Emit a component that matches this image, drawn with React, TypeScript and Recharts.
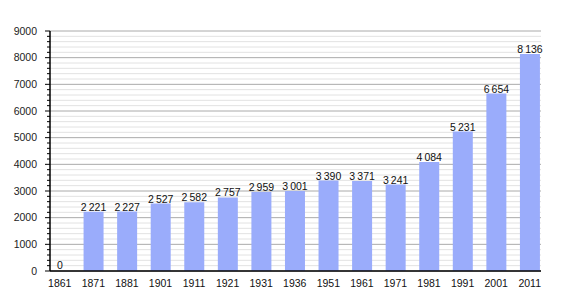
import { BarChart, Bar, XAxis, YAxis, CartesianGrid, LabelList, Cell } from "recharts";

const years = ["1861", "1871", "1881", "1901", "1911", "1921", "1931", "1936", "1951", "1961", "1971", "1981", "1991", "2001", "2011"];
const population = [0, 2221, 2227, 2527, 2582, 2757, 2959, 3001, 3390, 3371, 3241, 4084, 5231, 6654, 8136];
const yTicks = [
  0, 200, 400, 600, 800, 1000, 1200, 1400, 1600, 1800, 2000, 2200, 2400, 2600, 2800, 3000,
  3200, 3400, 3600, 3800, 4000, 4200, 4400, 4600, 4800, 5000, 5200, 5400, 5600, 5800, 6000,
  6200, 6400, 6600, 6800, 7000, 7200, 7400, 7600, 7800, 8000, 8200, 8400, 8600, 8800, 9000,
];

const data = years.map((year, i) => ({ year, value: population[i] }));

const font = "'Liberation Sans', Arial, sans-serif";
const barColor = "#9aacfb";

// thin space as thousands separator, like the original
const fmt = (v: number) => {
  const s = String(v);
  return s.length > 3 ? s.slice(0, -3) + "\u2009" + s.slice(-3) : s;
};

function YTick(props: any) {
  const { x, y, payload } = props;
  const axisX = x + 13;
  const major = payload.value % 1000 === 0;
  return (
    <g>
      <line x1={axisX - (major ? 5 : 3)} x2={axisX} y1={y} y2={y} stroke="#000" strokeWidth={1} />
      {major && (
        <text x={x} y={y} dy="0.35em" textAnchor="end" fontSize={10.5} fontFamily={font} fill="#222">
          {payload.value}
        </text>
      )}
    </g>
  );
}

function GridLine(props: any) {
  const { x1, x2, y1, y2, index } = props;
  const major = index % 5 === 0;
  return <line x1={x1} x2={x2} y1={y1} y2={y2} stroke={major ? "#aaaaaa" : "#e2e2e2"} strokeWidth={1} />;
}

export default function App() {
  return (
    <div style={{ position: "absolute", left: 0, top: 0, background: "#fff" }}>
      <BarChart width={570} height={300} data={data} margin={{ top: 31, right: 29, left: 0, bottom: 0 }}>
        <CartesianGrid vertical={false} horizontal={GridLine} />
        <XAxis
          dataKey="year"
          height={29}
          padding={{ left: -7, right: -5.5 }}
          tickLine={false}
          tickMargin={3}
          axisLine={{ stroke: "#000", strokeWidth: 1.5 }}
          tick={{ fontSize: 10.5, fontFamily: font, fill: "#111" }}
          interval={0}
        />
        <YAxis
          width={50}
          domain={[0, 9000]}
          ticks={yTicks}
          interval={0}
          tickSize={5}
          tickMargin={8}
          tickLine={false}
          axisLine={{ stroke: "#000", strokeWidth: 1.5 }}
          tick={<YTick />}
        />
        <Bar dataKey="value" fill={barColor} barSize={20} minPointSize={1} isAnimationActive={false}>
          {data.map((d) => (
            <Cell key={d.year} fill={d.value === 0 ? "transparent" : barColor} />
          ))}
          <LabelList
            dataKey="value"
            position="top"
            offset={1}
            formatter={(v: any) => fmt(Number(v))}
            style={{ fontSize: 10.5, fontFamily: font, fill: "#111" }}
          />
        </Bar>
      </BarChart>
    </div>
  );
}
